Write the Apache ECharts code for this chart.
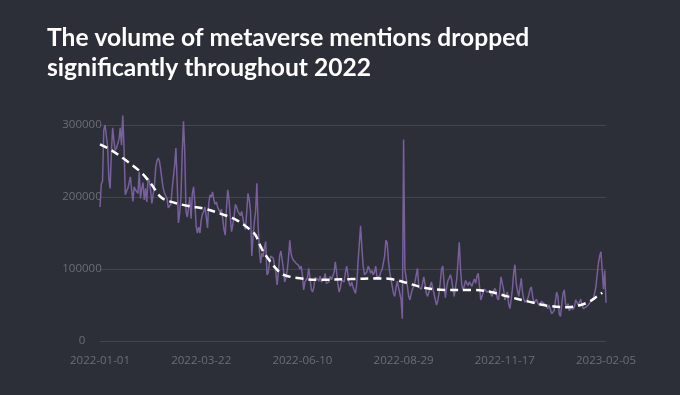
<!DOCTYPE html>
<html>
<head>
<meta charset="utf-8">
<script src="https://cdn.jsdelivr.net/npm/echarts@6/dist/echarts.min.js"></script>
<style>
html,body{margin:0;padding:0;background:#2c2e38;}
#chart{width:680px;height:395px;}
</style>
</head>
<body>
<div id="chart"></div>
<script>
// Daily metaverse mentions, in thousands, from 2022-01-01 to 2023-02-05 (401 days)
const mentionsK = [
186,218,222,293,300,298,270,225,212,262,
296,278,265,268,266,280,296,272,313,268,
203,208,212,220,228,210,194,214,210,212,
205,235,198,212,220,196,212,193,226,222,
210,191,190,215,240,250,254,250,238,224,
212,205,207,198,185,183,190,210,228,244,
268,220,164,178,200,262,305,262,180,172,
185,200,170,205,214,192,160,150,158,150,
168,176,180,186,172,157,192,203,200,207,
196,190,193,186,182,178,183,170,155,147,
185,210,196,172,152,162,172,190,186,180,
178,174,180,170,160,155,180,205,196,180,
118,145,165,180,219,160,125,108,122,117,
130,138,92,95,110,118,120,115,104,95,
78,95,118,125,126,100,82,88,98,115,
140,122,115,112,110,108,109,105,100,104,
92,71,82,80,88,101,88,72,68,74,
88,90,86,83,90,82,80,86,94,80,
78,82,90,85,86,95,110,96,80,68,
74,84,86,82,95,104,92,80,76,82,
75,70,66,80,110,135,160,130,105,92,
90,96,104,100,94,98,92,96,104,88,
86,90,96,99,100,118,140,137,112,96,
86,76,66,62,74,83,74,66,58,31,
280,100,88,76,62,57,66,72,70,82,
92,101,75,76,72,80,89,78,66,62,
68,76,82,74,66,58,50,56,66,82,
100,104,80,60,74,84,87,92,85,72,
62,74,86,110,137,100,78,70,72,84,
80,77,82,84,76,82,86,80,90,94,
76,57,62,68,72,70,68,66,70,65,
62,68,73,70,60,57,70,89,80,72,
57,62,68,52,45,57,72,95,106,80,
70,62,74,87,68,58,54,52,58,64,
72,75,62,52,55,58,53,50,52,55,
56,52,54,48,45,50,44,38,36,42,
55,68,62,38,34,50,66,71,52,47,
52,42,46,48,44,47,57,54,50,52,
58,50,45,45,47,48,50,52,55,57,
60,66,75,92,108,118,124,98,72,98,
53
];
// Trend line samples: [day index, value in thousands]
const trendIdx = [0,9,18,32,40,48,55,71,82,95,108,119,123,127,131,139,145,158,172,198,219,230,240,256,272,296,309,322,338,354,370,380,387,393,397];
const trendK   = [273,265,254,235,219,200,194,187,184,177,168,154,147,131,119,101,92,87,85,86,87,86,82,74,71,71,68,62,55,49,47,50,55,62,67];

const startDate = '2022-01-01';
const yTicks = [0, 100000, 200000, 300000];

const dates = [];
(function(){
  const d0 = new Date(startDate + 'T00:00:00Z');
  for (let i = 0; i < mentionsK.length; i++) {
    const d = new Date(d0.getTime() + i * 86400000);
    dates.push(d.toISOString().slice(0, 10));
  }
})();
const mentions = mentionsK.map(v => v * 1000);
const trend = trendIdx.map((ix, k) => [ix, trendK[k] * 1000]);

const chart = echarts.init(document.getElementById('chart'), null, {renderer: 'canvas'});
chart.setOption({
  backgroundColor: '#2c2e38',
  animation: false,
  title: {
    text: 'The volume of metaverse mentions dropped\nsignificantly throughout 2022',
    left: 42,
    top: 18,
    textStyle: {
      color: '#ffffff',
      fontFamily: 'Lato',
      fontWeight: 'bold',
      fontSize: 24.6,
      lineHeight: 30
    }
  },
  grid: {left: 100, right: 74, top: 125, bottom: 54},
  xAxis: {
    type: 'category',
    data: dates,
    boundaryGap: false,
    axisLine: {show: false},
    axisTick: {show: false},
    splitLine: {show: false},
    axisLabel: {
      interval: 79,
      color: '#6b6e78',
      fontFamily: 'Open Sans',
      fontSize: 11.5,
      margin: 14
    }
  },
  yAxis: {
    type: 'value',
    min: yTicks[0],
    max: yTicks[yTicks.length - 1],
    interval: 100000,
    axisLine: {show: false},
    axisTick: {show: false},
    splitLine: {lineStyle: {color: '#44464f', width: 1}},
    axisLabel: {
      align: 'center',
      margin: 18,
      color: '#6b6e78',
      fontFamily: 'Open Sans',
      fontSize: 11.5,
      formatter: v => String(v)
    }
  },
  series: [
    {
      type: 'line',
      data: mentions,
      showSymbol: false,
      clip: false,
      lineStyle: {color: '#78609a', width: 1.5},
      z: 2
    },
    {
      type: 'line',
      data: trend,
      smooth: 0.35,
      showSymbol: false,
      clip: false,
      lineStyle: {color: '#ffffff', width: 2.5, type: [8, 5]},
      z: 3
    }
  ]
});
</script>
</body>
</html>
